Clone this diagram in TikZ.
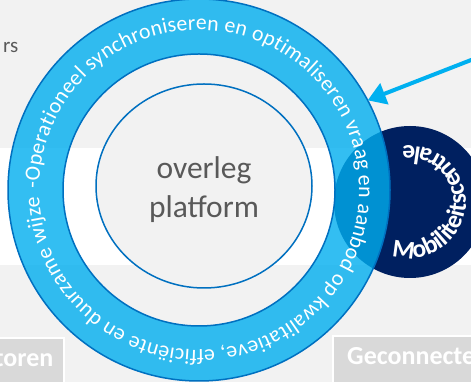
\documentclass[tikz,border=0pt]{standalone}
\usepackage{fontspec}
\setmainfont{Carlito}
\usetikzlibrary{arrows.meta,decorations.text,shapes.geometric}
\definecolor{bggray}{HTML}{F2F2F2}
\definecolor{ringblue}{HTML}{00AEEF}
\definecolor{edgeblue}{HTML}{0070C0}
\definecolor{navy}{HTML}{002060}
\definecolor{arrowblue}{HTML}{00B0F0}
\definecolor{textgray}{HTML}{595959}
\definecolor{boxgray}{HTML}{D9D9D9}
\newcommand{\ringfont}{\fontsize{21.8}{26}\selectfont}
\newcommand{\centralefont}{\bfseries\fontsize{25.5}{31}\selectfont}

\tikzset{
  edgeline/.style={draw=edgeblue, line width=1.5pt},
  arrowline/.style={draw=arrowblue, line width=4pt, -{Triangle[length=18pt,width=22pt]}},
  tabbox/.style={fill=boxgray, draw=white, line width=1.5pt},
  tabtext/.style={text=white, font=\bfseries\fontsize{26}{31}\selectfont, inner sep=0pt},
}

\begin{document}
\begin{tikzpicture}[x=1pt,y=1pt]
  %%%%% START %%%%%
  \useasboundingbox (0,0) rectangle (471,382);
  \clip (0,0) rectangle (471,382);

  \fill[bggray] (0,0) rectangle (471,382);
  \fill[white] (0,117) rectangle (471,234);

  \node[anchor=base east, text=textgray, font=\fontsize{21}{25}\selectfont, inner sep=0pt] (topword) at (18.5,329) {rs};

  \draw[tabbox] (-10,-5) rectangle (64,44);
  \node[tabtext, anchor=base east] (lefttab) at (53.5,15) {toren};
  \draw[tabbox] (333,-5) rectangle (480,46);
  \node[tabtext, anchor=base west] (righttab) at (347,17) {Geconnecte};

  % mobiliteitscentrale
  \node[circle, fill=navy, minimum size=152pt, inner sep=0pt] (centrale) at (410,180) {};
  \path[decorate, decoration={text along path, text color=white, text={|\centralefont|Mobiliteitscentrale}}]
    (centrale.center) ++(-109:56) arc[start angle=-109, end angle=140, radius=56];

  % ring
  \node[circle, minimum size=382pt, inner sep=0pt, outer sep=0pt] (ring) at (199,192) {};
  \fill[ringblue, fill opacity=0.8, even odd rule] (ring.center) circle[radius=191] (ring.center) circle[radius=136];
  \draw[edgeline] (ring.center) circle[radius=191];
  \draw[edgeline] (ring.center) circle[radius=136];
  \path[decorate, decoration={text along path, text color=white, text align={fit to path},
     text={|\ringfont|-Operationeel synchroniseren en optimaliseren vraag en aanbod op kwalitatieve, efficiënte en duurzame wijze}}]
    (ring.center) ++(179.3:160) arc[start angle=179.3, end angle=-177.6, radius=160];

  % overleg platform
  \node[ellipse, fill=bggray, edgeline, minimum width=216pt, minimum height=204pt, inner sep=0pt] (platform) at (204,196) {};
  \node[align=center, text=textgray, font=\fontsize{31.5}{39}\selectfont, inner sep=0pt] (platformtext) at (204,192.3) {overleg\\platform};

  \coordinate (arrowfrom) at (475,323.5);
  \draw[arrowline] (arrowfrom) -- (ring.28.3);
  %%%%% END %%%%%
\end{tikzpicture}
\end{document}
